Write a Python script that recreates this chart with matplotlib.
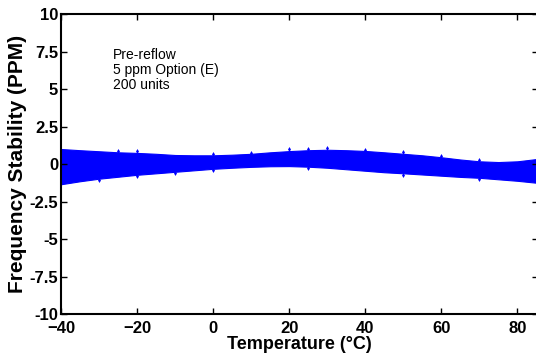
#!/usr/bin/env python3
""" frequency stability vs temperature band for 200 units (pre-reflow) """
import numpy as np
import matplotlib.pyplot as plt

plt.rcParams['font.family'] = ['Liberation Sans', 'DejaVu Sans']

# envelope of the 200 curves
temps = [-40, -35, -30, -25, -20, -15, -10, -5, 0, 5, 10, 15, 20, 25, 30,
         35, 40, 45, 50, 55, 60, 65, 70, 75, 80, 85]
upper = [1.00, 0.92, 0.85, 0.78, 0.74, 0.68, 0.60, 0.58, 0.58, 0.62, 0.68, 0.78,
         0.86, 0.92, 0.95, 0.92, 0.87, 0.78, 0.68, 0.58, 0.45, 0.30, 0.18, 0.13,
         0.18, 0.33]
lower = [-1.35, -1.15, -0.98, -0.85, -0.72, -0.62, -0.52, -0.42, -0.32, -0.25,
         -0.19, -0.15, -0.14, -0.18, -0.25, -0.35, -0.45, -0.55, -0.62, -0.70,
         -0.78, -0.86, -0.92, -1.02, -1.12, -1.25]

# measurement points that poke out of the band
spike_t = [-25, -20, 0, 10, 20, 25, 30, 40, 50, 60, 70]
spike_hi = [0.86, 0.84, 0.64, 0.76, 0.97, 1.02, 1.05, 0.95, 0.77, 0.53, 0.26]
spike_lo_t = [-30, -20, -10, 0, 25, 50, 70]
spike_lo = [-1.06, -0.80, -0.60, -0.40, -0.28, -0.72, -1.00]

xticks = [-40, -20, 0, 20, 40, 60, 80]
yticks = [-10, -7.5, -5, -2.5, 0, 2.5, 5, 7.5, 10]
ylabels = ['-10', '-7.5', '-5', '-2.5', '0', '2.5', '5', '7.5', '10']

fig = plt.figure(figsize=(5.36, 3.62), dpi=100)
ax = fig.add_axes([0.1138, 0.1326, 0.8892, 0.8287])

ax.fill_between(temps, lower, upper, color='#0000ff', lw=0.8, edgecolor='#0000ff')
ax.plot(spike_t, spike_hi, 'd', color='#0000ff', ms=2.5, mew=0)
ax.plot(spike_lo_t, spike_lo, 'd', color='#0000ff', ms=2.5, mew=0)

ax.text(-26.3, 7.75, 'Pre-reflow\n5 ppm Option (E)\n200 units',
        fontsize=10, va='top', ha='left', linespacing=1.1)

ax.set_xlim(-40, 85.3)
ax.set_ylim(-10, 10)
ax.set_xticks(xticks)
ax.set_yticks(yticks)
ax.set_yticklabels(ylabels)
ax.tick_params(direction='in', top=True, right=True, length=4, width=1,
               labelsize=12)
ax.tick_params(axis='x', pad=5)
ax.tick_params(axis='y', pad=2)
for lab in ax.get_xticklabels() + ax.get_yticklabels():
    lab.set_fontweight('bold')
for sp in ax.spines.values():
    sp.set_linewidth(1.5)

ax.set_xlabel('Temperature (°C)', fontsize=13, fontweight='bold', labelpad=0)
ax.set_ylabel('Frequency Stability (PPM)', fontsize=15, fontweight='bold', labelpad=2)

fig.savefig('out.png', dpi=100)
